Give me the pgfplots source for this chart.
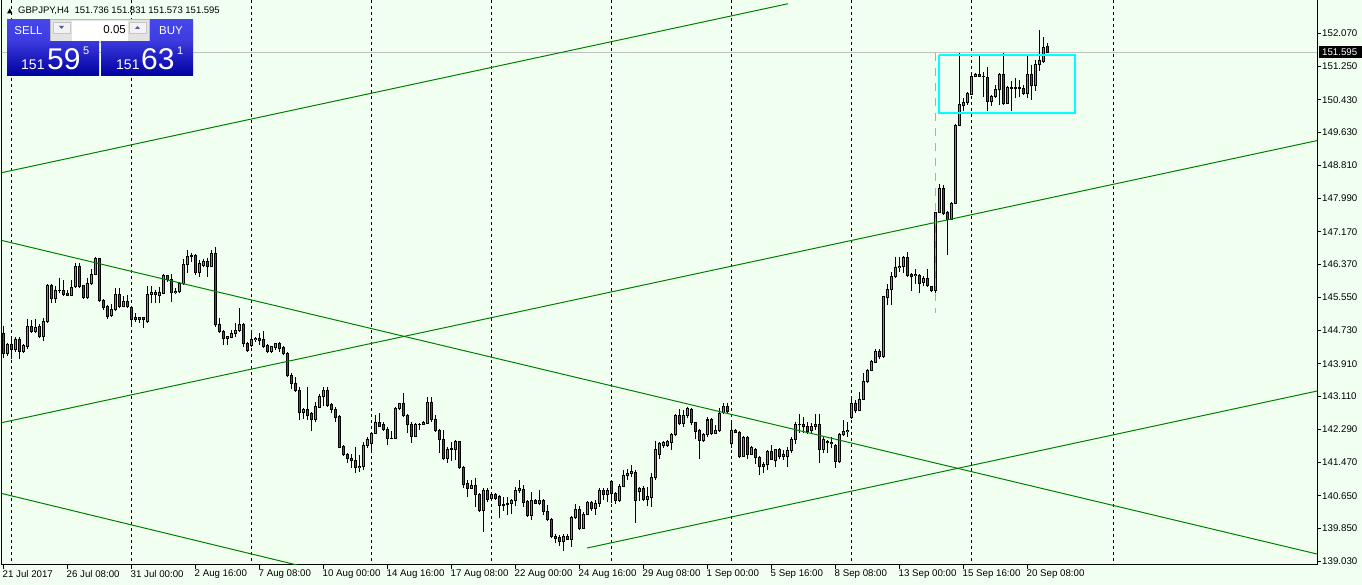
\documentclass[border=0pt]{standalone}
\usepackage{fontspec}
\setmainfont{Liberation Sans}
\usepackage{pgfplots}
\pgfplotsset{compat=1.18}
\usepackage{pgfplotstable}

\definecolor{bg}{RGB}{240,255,240}
\definecolor{bull}{RGB}{60,179,113}
\definecolor{bear}{RGB}{165,42,42}
\definecolor{trend}{RGB}{0,128,0}
\definecolor{boxcyan}{RGB}{0,255,255}
\definecolor{mtorange}{RGB}{255,165,0}
\definecolor{bidgrey}{RGB}{192,192,192}
\definecolor{btntop}{RGB}{70,70,235}
\definecolor{btnbot}{RGB}{0,0,160}

% GBPJPY H4 bars: index, open, high, low, close
\pgfplotstableread{
k o h l c
0 144.66 144.84 144.04 144.17
1 144.17 144.43 144.10 144.39
2 144.39 144.54 144.02 144.26
3 144.26 144.56 144.21 144.52
4 144.52 144.56 144.02 144.21
5 144.21 144.39 144.18 144.35
6 144.33 145.01 144.27 144.82
7 144.82 144.99 144.68 144.70
8 144.70 145.01 144.68 144.81
9 144.82 144.89 144.54 144.58
10 144.58 145.05 144.47 144.96
11 144.95 145.89 144.91 145.83
12 145.83 145.89 145.42 145.52
13 145.52 145.83 145.40 145.71
14 145.71 146.02 145.65 145.73
15 145.73 145.98 145.58 145.62
16 145.65 145.73 145.57 145.59
17 145.59 145.98 145.57 145.80
18 145.81 146.39 145.77 146.32
19 146.32 146.39 145.79 145.81
20 145.83 145.85 145.52 145.55
21 145.55 146.02 145.52 145.89
22 145.89 146.24 145.85 146.12
23 146.12 146.54 146.10 146.50
24 146.50 146.52 145.44 145.46
25 145.46 145.50 145.24 145.29
26 145.32 145.36 145.01 145.07
27 145.09 145.38 145.06 145.24
28 145.24 145.77 145.21 145.62
29 145.62 145.77 145.28 145.32
30 145.32 145.58 145.30 145.44
31 145.44 145.60 145.28 145.32
32 145.30 145.32 144.89 145.01
33 145.06 145.17 144.95 144.99
34 144.99 145.05 144.92 145.04
35 145.04 145.05 144.80 144.99
36 144.95 145.83 144.92 145.62
37 145.62 145.83 145.40 145.68
38 145.68 145.73 145.42 145.63
39 145.60 145.81 145.40 145.66
40 145.65 146.13 145.62 146.08
41 146.08 146.10 145.94 145.98
42 145.98 146.13 145.44 145.67
43 145.67 145.77 145.63 145.70
44 145.69 145.94 145.65 145.88
45 145.88 146.49 145.85 146.37
46 146.37 146.73 146.14 146.57
47 146.57 146.65 146.43 146.59
48 146.59 146.62 146.10 146.16
49 146.16 146.47 146.06 146.39
50 146.33 146.49 146.29 146.43
51 146.43 146.51 146.06 146.31
52 146.31 146.73 146.29 146.64
53 146.64 146.80 144.82 144.88
54 144.88 145.05 144.66 144.70
55 144.71 144.74 144.37 144.54
56 144.54 144.59 144.37 144.57
57 144.56 144.74 144.54 144.66
58 144.66 144.91 144.58 144.74
59 144.74 145.28 144.70 144.87
60 144.87 144.91 144.33 144.41
61 144.41 144.45 144.21 144.23
62 144.37 144.68 144.33 144.51
63 144.50 144.58 144.45 144.53
64 144.53 144.66 144.37 144.48
65 144.50 144.72 144.29 144.33
66 144.35 144.40 144.17 144.21
67 144.21 144.35 144.17 144.33
68 144.31 144.43 144.25 144.40
69 144.40 144.45 144.21 144.29
70 144.31 144.35 144.12 144.17
71 144.17 144.21 143.59 143.63
72 143.63 143.67 143.28 143.42
73 143.42 143.57 143.22 143.26
74 143.26 143.33 142.52 142.70
75 142.70 142.81 142.54 142.77
76 142.77 143.33 142.52 142.64
77 142.67 142.72 142.26 142.52
78 142.52 142.97 142.48 142.85
79 142.83 143.16 142.81 143.11
80 143.10 143.33 142.86 143.24
81 143.24 143.34 142.85 142.89
82 142.91 142.95 142.70 142.77
83 142.78 142.85 142.48 142.58
84 142.60 142.64 141.82 141.84
85 141.86 141.90 141.63 141.67
86 141.68 141.71 141.46 141.57
87 141.57 141.68 141.33 141.51
88 141.53 141.86 141.22 141.35
89 141.35 141.65 141.24 141.38
90 141.37 141.98 141.29 141.88
91 141.88 142.11 141.84 142.04
92 141.95 142.23 141.70 142.19
93 142.19 142.64 142.17 142.45
94 142.46 142.70 142.34 142.37
95 142.40 142.48 142.26 142.29
96 142.29 142.35 141.90 142.07
97 142.07 142.26 142.04 142.06
98 142.07 142.85 142.04 142.81
99 142.81 142.95 142.77 142.93
100 142.93 143.18 142.59 142.62
101 142.62 142.68 142.19 142.40
102 142.42 142.48 141.96 142.11
103 142.11 142.45 142.09 142.40
104 142.40 142.45 142.27 142.42
105 142.42 142.50 142.40 142.45
106 142.44 143.08 142.42 142.95
107 142.95 143.08 142.48 142.52
108 142.52 142.64 142.23 142.27
109 142.27 142.31 141.71 142.03
110 142.03 142.27 141.53 141.57
111 141.57 141.86 141.46 141.80
112 141.80 141.98 141.51 141.82
113 141.80 142.03 141.53 141.98
114 141.98 142.00 141.31 141.34
115 141.34 141.38 140.83 140.93
116 140.94 141.05 140.61 140.83
117 140.83 141.04 140.81 140.91
118 140.91 141.08 140.38 140.67
119 140.67 140.71 140.25 140.28
120 140.28 140.83 139.76 140.79
121 140.79 140.83 140.50 140.56
122 140.58 140.72 140.54 140.68
123 140.68 140.72 140.54 140.58
124 140.64 140.68 140.09 140.42
125 140.42 140.62 140.28 140.44
126 140.44 140.62 140.17 140.46
127 140.46 140.58 140.21 140.54
128 140.54 140.86 140.40 140.79
129 140.79 141.04 140.72 140.83
130 140.81 140.91 140.38 140.48
131 140.50 140.54 140.13 140.17
132 140.17 140.75 140.05 140.54
133 140.54 140.56 140.44 140.46
134 140.46 140.79 140.42 140.54
135 140.54 140.58 140.17 140.26
136 140.26 140.42 140.03 140.07
137 140.07 140.09 139.60 139.64
138 139.65 139.70 139.47 139.60
139 139.62 139.68 139.41 139.51
140 139.51 139.70 139.29 139.65
141 139.65 139.70 139.56 139.57
142 139.57 140.15 139.39 140.11
143 140.11 140.44 140.07 140.32
144 140.32 140.40 139.80 139.84
145 139.84 140.25 139.82 140.19
146 140.19 140.53 140.17 140.49
147 140.49 140.53 140.28 140.34
148 140.34 140.54 140.17 140.46
149 140.46 140.83 140.38 140.77
150 140.77 140.83 140.54 140.67
151 140.67 140.83 140.50 140.79
152 141.01 141.04 140.46 140.71
153 140.71 140.75 140.44 140.54
154 140.54 140.94 140.50 140.89
155 140.89 141.28 140.86 141.14
156 141.14 141.30 141.04 141.20
157 141.20 141.41 141.12 141.26
158 141.22 141.28 139.98 140.53
159 140.75 140.87 140.53 140.83
160 140.83 140.89 140.53 140.56
161 140.56 140.87 140.39 140.62
162 140.61 141.20 140.38 141.10
163 141.10 142.01 141.05 141.78
164 141.68 141.98 141.55 141.94
165 141.90 142.00 141.82 141.96
166 141.90 142.03 141.86 141.98
167 141.96 142.21 141.78 142.17
168 142.15 142.68 142.12 142.64
169 142.64 142.78 142.40 142.44
170 142.44 142.77 142.35 142.64
171 142.62 142.85 142.56 142.81
172 142.78 142.81 142.40 142.45
173 142.45 142.48 142.04 142.23
174 142.26 142.29 141.55 142.01
175 142.01 142.20 141.98 142.17
176 142.17 142.60 142.11 142.52
177 142.52 142.56 142.15 142.19
178 142.19 142.40 142.17 142.27
179 142.25 142.81 142.23 142.68
180 142.70 142.95 142.68 142.86
181 142.86 142.93 142.68 142.72
182 141.93 142.48 141.82 142.27
183 142.27 142.31 142.19 142.21
184 142.21 142.26 141.57 141.63
185 141.63 142.12 141.61 142.09
186 142.09 142.12 141.55 141.68
187 141.68 141.88 141.66 141.84
188 141.78 141.82 141.43 141.60
189 141.60 141.63 141.16 141.38
190 141.38 141.49 141.20 141.43
191 141.41 141.79 141.29 141.74
192 141.74 141.90 141.53 141.55
193 141.53 141.79 141.35 141.78
194 141.78 141.82 141.55 141.63
195 141.63 141.78 141.53 141.66
196 141.61 141.86 141.35 141.76
197 141.76 142.11 141.70 142.04
198 142.04 142.48 141.93 142.40
199 142.40 142.67 142.19 142.42
200 142.42 142.60 142.21 142.35
201 142.37 142.48 142.17 142.23
202 142.25 142.44 142.17 142.37
203 142.37 142.68 142.27 142.42
204 142.42 142.68 141.47 141.79
205 141.79 142.11 141.70 142.04
206 141.98 142.03 141.70 141.96
207 141.96 142.11 141.82 141.93
208 141.90 141.93 141.33 141.49
209 141.49 142.19 141.47 142.15
210 142.15 142.52 142.12 142.23
211 142.23 142.48 142.11 142.27
212 142.58 143.05 142.54 142.93
213 142.93 143.01 142.70 142.75
214 142.75 143.22 142.73 143.03
215 143.03 143.69 143.01 143.47
216 143.47 143.79 143.44 143.75
217 143.75 144.00 143.74 143.96
218 143.94 144.27 143.92 144.21
219 144.21 144.27 144.02 144.10
220 144.10 145.58 144.05 145.56
221 145.55 145.89 145.36 145.75
222 145.75 146.18 145.36 146.06
223 146.06 146.54 146.02 146.29
224 146.29 146.55 146.18 146.32
225 146.32 146.57 146.14 146.54
226 146.54 146.68 146.06 146.10
227 146.12 146.16 145.71 146.06
228 146.08 146.26 145.89 146.12
229 146.10 146.12 145.65 145.89
230 145.91 146.08 145.83 146.02
231 146.02 146.24 145.81 145.83
232 145.81 145.83 145.69 145.71
233 145.73 147.66 145.61 147.64
234 147.64 148.36 147.63 148.24
235 148.24 148.32 147.58 147.62
236 147.64 147.69 146.59 147.47
237 147.47 147.91 147.46 147.87
238 147.87 149.83 147.85 149.80
239 149.80 151.58 149.78 150.30
240 150.28 150.46 150.14 150.36
241 150.36 150.63 150.30 150.59
242 150.57 151.10 150.55 151.01
243 151.01 151.08 150.98 151.06
244 151.06 151.53 150.98 151.00
245 151.00 151.12 150.50 151.01
246 150.99 151.25 150.14 150.38
247 150.38 150.55 150.27 150.51
248 150.51 150.79 150.46 150.67
249 150.67 151.10 150.30 151.06
250 151.06 151.58 150.30 150.34
251 150.34 150.77 150.32 150.73
252 150.73 150.90 150.14 150.71
253 150.71 150.96 150.46 150.73
254 150.73 150.92 150.50 150.71
255 150.71 150.79 150.55 150.59
256 150.59 151.53 150.46 151.06
257 151.06 151.29 150.42 150.79
258 150.79 151.41 150.65 151.29
259 151.29 152.15 151.15 151.39
260 151.37 151.99 151.34 151.72
261 151.736 151.831 151.573 151.595
}\candles

\begin{document}
\begin{tikzpicture}
\path[use as bounding box] (0,0) rectangle (1362bp,585bp);
\fill[bg] (0,0) rectangle (1362bp,585bp);

\begin{axis}[
    at={(1.5bp,20bp)}, anchor=south west,
    scale only axis,
    width=1315.5bp, height=565.5bp,
    xmin=-0.5, xmax=328.375,
    ymin=138.939, ymax=152.905,
    axis line style={black, line width=1bp},
    tick style={black, line width=1bp},
    tick align=outside,
    major tick length=4bp,
    xtick pos=left, ytick pos=right,
    yticklabel pos=right,
    tick label style={font=\fontsize{9.7bp}{11bp}\selectfont},
    xtick={0,16,...,256},
    xticklabels={21 Jul 2017,26 Jul 08:00,31 Jul 00:00,2 Aug 16:00,7 Aug 08:00,10 Aug 00:00,14 Aug 16:00,17 Aug 08:00,22 Aug 00:00,24 Aug 16:00,29 Aug 08:00,1 Sep 00:00,5 Sep 16:00,8 Sep 08:00,13 Sep 00:00,15 Sep 16:00,20 Sep 08:00},
    xticklabel style={anchor=north west, inner sep=0pt, xshift=-1bp, yshift=-1bp},
    ytick={139.03,139.85,140.65,141.47,142.29,143.11,143.91,144.73,145.55,146.37,147.17,147.99,148.81,149.63,150.43,151.25,152.07},
    yticklabels={139.030,139.850,140.650,141.470,142.290,143.110,143.910,144.730,145.550,146.370,147.170,147.990,148.810,149.630,150.430,151.250,152.070},
    yticklabel style={anchor=west, inner sep=0pt, xshift=1bp},
]
% period separators
\pgfplotsinvokeforeach{2,32,62,92,122,152,182,212,242,277.6}{
  \draw[black, line width=1bp, dash pattern=on 3bp off 3bp] (axis cs:#1,138.9) -- (axis cs:#1,152.95);
}
% bid line
\addplot[bidgrey, line width=1bp] coordinates {(-1,151.595) (330,151.595)};

% wicks
\addplot[black, line width=1bp, quiver={u=0, v=\thisrow{h}-\thisrow{l}}]
  table[x=k, y=l] {\candles};
% body outline
\addplot[black, line width=3bp, quiver={u=0, v={abs(\thisrow{c}-\thisrow{o})+0.0247}}]
  table[x=k, y expr={min(\thisrow{o},\thisrow{c})-0.01235}] {\candles};
% bull bodies
\addplot[bull, line width=1bp, quiver={u=0, v={max(\thisrow{c}-\thisrow{o}-0.0247,0)}}]
  table[x=k, y expr={\thisrow{o}+0.01235}] {\candles};
% bear bodies
\addplot[bear, line width=1bp, quiver={u=0, v={max(\thisrow{o}-\thisrow{c}-0.0247,0)}}]
  table[x=k, y expr={\thisrow{c}+0.01235}] {\candles};

% trend lines
\addplot[trend, line width=1bp] coordinates {(-0.875,148.619) (196.1,152.80)};
\addplot[trend, line width=1bp] coordinates {(-0.875,142.445) (328.375,149.42)};
\addplot[trend, line width=1bp] coordinates {(-0.875,146.965) (328.375,139.21)};
\addplot[trend, line width=1bp] coordinates {(-0.875,140.716) (75,138.90)};
\addplot[trend, line width=1bp] coordinates {(145.875,139.358) (328.375,143.235)};

% vertical marker and range box
\addplot[mtorange, line width=1bp, dash pattern=on 8bp off 7bp] coordinates {(232.95,151.58) (232.95,145.16)};
\addplot[boxcyan, line width=2bp] coordinates {(233.8,151.54) (267.9,151.54) (267.9,150.11) (233.8,150.11) (233.8,151.54)};
\end{axis}

% trade panel and header, image coordinates (y down)
\begin{scope}[yshift=585bp, x=1bp, y=-1bp]
  \fill[black] (7,13.5) -- (12.5,13.5) -- (9.75,8.5) -- cycle;
  \node[anchor=base west, inner sep=0pt, font=\fontsize{9.5bp}{11bp}\selectfont]
    at (18,14) {GBPJPY,H4\ \ 151.736 151.831 151.573 151.595};

  \shade[top color=btntop, bottom color=btntop!85!btnbot] (7,20) rectangle (50,42);
  \shade[top color=btntop, bottom color=btntop!85!btnbot] (149,20) rectangle (193,42);
  \draw[white!55!btntop, line width=1bp] (10,41.5) -- (47,41.5);
  \draw[white!55!btntop, line width=1bp] (153,41.5) -- (189,41.5);
  \node[white, font=\fontsize{11.5bp}{13bp}\selectfont] at (28.5,31) {SELL};
  \node[white, font=\fontsize{11.5bp}{13bp}\selectfont] at (171,31) {BUY};

  \fill[gray!22] (50,19.5) rectangle (149,42.5);
  \draw[gray!55, line width=0.8bp] (50,19.5) rectangle (149,42.5);
  \fill[white] (72,21.5) rectangle (128,41);
  \fill[gray!10] (53,22) rectangle (70,33);
  \draw[gray!45, line width=0.6bp] (53,22) rectangle (70,33);
  \fill[gray!10] (129,22) rectangle (146,33);
  \draw[gray!45, line width=0.6bp] (129,22) rectangle (146,33);
  \fill[blue!30!gray] (59,26) -- (64,26) -- (61.5,29) -- cycle;
  \fill[blue!30!gray] (135,29) -- (140,29) -- (137.5,26) -- cycle;
  \node[anchor=east, inner sep=0pt, font=\fontsize{11.5bp}{13bp}\selectfont] at (126,30) {0.05};

  \shade[top color=btntop!80!btnbot, bottom color=btnbot] (7,42) rectangle (99,76);
  \shade[top color=btntop!80!btnbot, bottom color=btnbot] (101,42) rectangle (193,76);
  \node[white, anchor=base west, inner sep=0pt, font=\fontsize{14bp}{16bp}\selectfont] at (21,70) {151};
  \node[white, anchor=base west, inner sep=0pt, font=\fontsize{30bp}{32bp}\selectfont] at (47,70) {59};
  \node[white, anchor=base west, inner sep=0pt, font=\fontsize{11bp}{12bp}\selectfont] at (83,55) {5};
  \node[white, anchor=base west, inner sep=0pt, font=\fontsize{14bp}{16bp}\selectfont] at (116,70) {151};
  \node[white, anchor=base west, inner sep=0pt, font=\fontsize{30bp}{32bp}\selectfont] at (141,70) {63};
  \node[white, anchor=base west, inner sep=0pt, font=\fontsize{11bp}{12bp}\selectfont] at (177,55) {1};

  \fill[black] (1319,46.5) rectangle (1362,58.5);
  \node[white, anchor=west, inner sep=0pt, font=\fontsize{9.7bp}{11bp}\selectfont] at (1322,52.5) {151.595};
\end{scope}
\end{tikzpicture}
\end{document}
